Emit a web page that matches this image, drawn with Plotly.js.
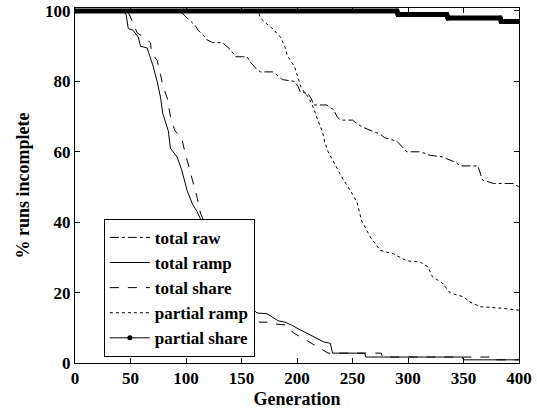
<!DOCTYPE html>
<html>
<head>
<meta charset="utf-8">
<script src="https://cdn.plot.ly/plotly-3.0.1.min.js"></script>
<style>
  html, body { margin: 0; padding: 0; background: #fff; }
  #chart { width: 537px; height: 419px; }
</style>
</head>
<body>
<div id="chart"></div>
<script>
// ---- Data ----
const seriesNames = ["total raw", "total ramp", "total share", "partial ramp", "partial share"];

const rawGen = [0,95,100,104,108,111,116,119,124,133,137,140,145,155,158,162,167,178,182,187,198,201,203,210,213,215,227,230,233,236,239,250,254,259,263,270,275,279,286,290,296,299,311,316,320,332,335,343,347,363,365,367,372,377,395,398,400];
const rawVal = [100,100,98.3,97,96,94.5,93,91.8,91,91,90,89,87,87,85.5,84,82.7,82.7,81.8,80.5,80,78.5,77,76.5,75,73.3,73.3,72.5,72,70,69,69,68,67,66.5,65.5,65,64,63.5,63,61,60,60,59.5,59,58.5,58,57,56,56,54,52,51.5,51,51,50.5,50];

const rampGen = [0,44,46,48,52,57,59,65,68,70,74,77,79,84,86,92,96,101,106,110,113,130,150,164,173,178,183,189,195,200,207,216,224,230,232,261,262,349,350,400];
const rampVal = [100,100,99,95,94.6,92.6,90,89.5,86.6,84.7,80,75.5,71,66,61,58.5,55,49,45,43,41,28,18,14.2,14,13,12,11.6,10.8,9.9,8.8,7.4,6,5.6,2.8,2.8,1.7,1.7,0.9,0.9];

const shareGen = [0,47,49,56,62,68,69,74,77,79,83,86,90,96,99,101,105,110,113,130,150,166,175,182,190,197,205,212,219,228,276,277,377,378,400];
const shareVal = [100,100,99,93.8,92.5,91,88,86,82,79,75.3,70,66,64,60,57.7,53,47,42.6,30,20,11.6,11.6,11,10.8,8.5,7.1,5.7,4.5,2.8,2.8,1.7,1.7,0.9,0.9];

const pRampGen = [0,165,167,172,178,185,189,191,195,198,201,204,210,215,218,223,225,228,232,240,248,254,258,266,275,287,299,311,318,322,331,338,350,356,365,383,400];
const pRampVal = [100,100,98,96.5,95,92.6,90,87.5,85.5,84,81,78,75.6,72.4,69.6,65.6,62.8,60,57.7,53,49,45.7,40.6,35.8,32,31,29,28.7,27.3,24.5,22.7,19.9,18.8,17.3,16,15.6,15];

const pShareGen = [0,290,291,335,336,383,384,400];
const pShareVal = [100,100,99,99,98,98,97,97];

const xTicks = [0,50,100,150,200,250,300,350,400];
const yTicks = [0,20,40,60,80,100];

// ---- Chart ----
const fontFam = "'Liberation Serif', 'Times New Roman', serif";
const black = "#000";

const traces = [
  {x: rawGen, y: rawVal, name: seriesNames[0], mode: "lines",
   line: {color: black, width: 1, dash: "dashdot"}},
  {x: rampGen, y: rampVal, name: seriesNames[1], mode: "lines",
   line: {color: black, width: 1}},
  {x: shareGen, y: shareVal, name: seriesNames[2], mode: "lines",
   line: {color: black, width: 1, dash: "dash"}},
  {x: pRampGen, y: pRampVal, name: seriesNames[3], mode: "lines",
   line: {color: black, width: 1, dash: "dot"}},
  {x: pShareGen, y: pShareVal, name: seriesNames[4], mode: "lines", showlegend: false,
   line: {color: black, width: 5}},
  {x: pShareGen, y: pShareVal, name: seriesNames[4], mode: "lines+markers",
   line: {color: black, width: 1}, marker: {color: black, size: 5}}
];

const tickFont = {family: fontFam, size: 17, color: black, weight: "bold"};
const titleFont = {family: fontFam, size: 18, color: black, weight: "bold"};

const layout = {
  width: 537, height: 419,
  margin: {l: 75, r: 18, t: 8, b: 56, pad: 0},
  paper_bgcolor: "#fff", plot_bgcolor: "#fff",
  font: {family: fontFam, size: 16, color: black, weight: "bold"},
  showlegend: true,
  legend: {
    x: 0.065, y: 0.406, xanchor: "left", yanchor: "top",
    bgcolor: "#fff", bordercolor: black, borderwidth: 1,
    font: {family: fontFam, size: 17, color: black, weight: "bold"},
    itemwidth: 40, tracegroupgap: 0
  },
  xaxis: {
    range: [0, 400], tickvals: xTicks, ticktext: xTicks.map(String),
    ticks: "inside", ticklen: 5, tickcolor: black,
    showline: true, linecolor: black, linewidth: 1, mirror: "ticks",
    showgrid: false, zeroline: false,
    tickfont: tickFont,
    title: {text: "Generation", font: titleFont, standoff: 4}
  },
  yaxis: {
    range: [0, 100.85], tickvals: yTicks, ticktext: yTicks.map(String),
    ticks: "inside", ticklen: 5, tickcolor: black,
    showline: true, linecolor: black, linewidth: 1, mirror: "ticks",
    showgrid: false, zeroline: false,
    tickfont: tickFont,
    title: {text: "% runs incomplete", font: titleFont, standoff: 10}
  }
};

Plotly.newPlot("chart", traces, layout, {staticPlot: true, displayModeBar: false});
</script>
</body>
</html>
